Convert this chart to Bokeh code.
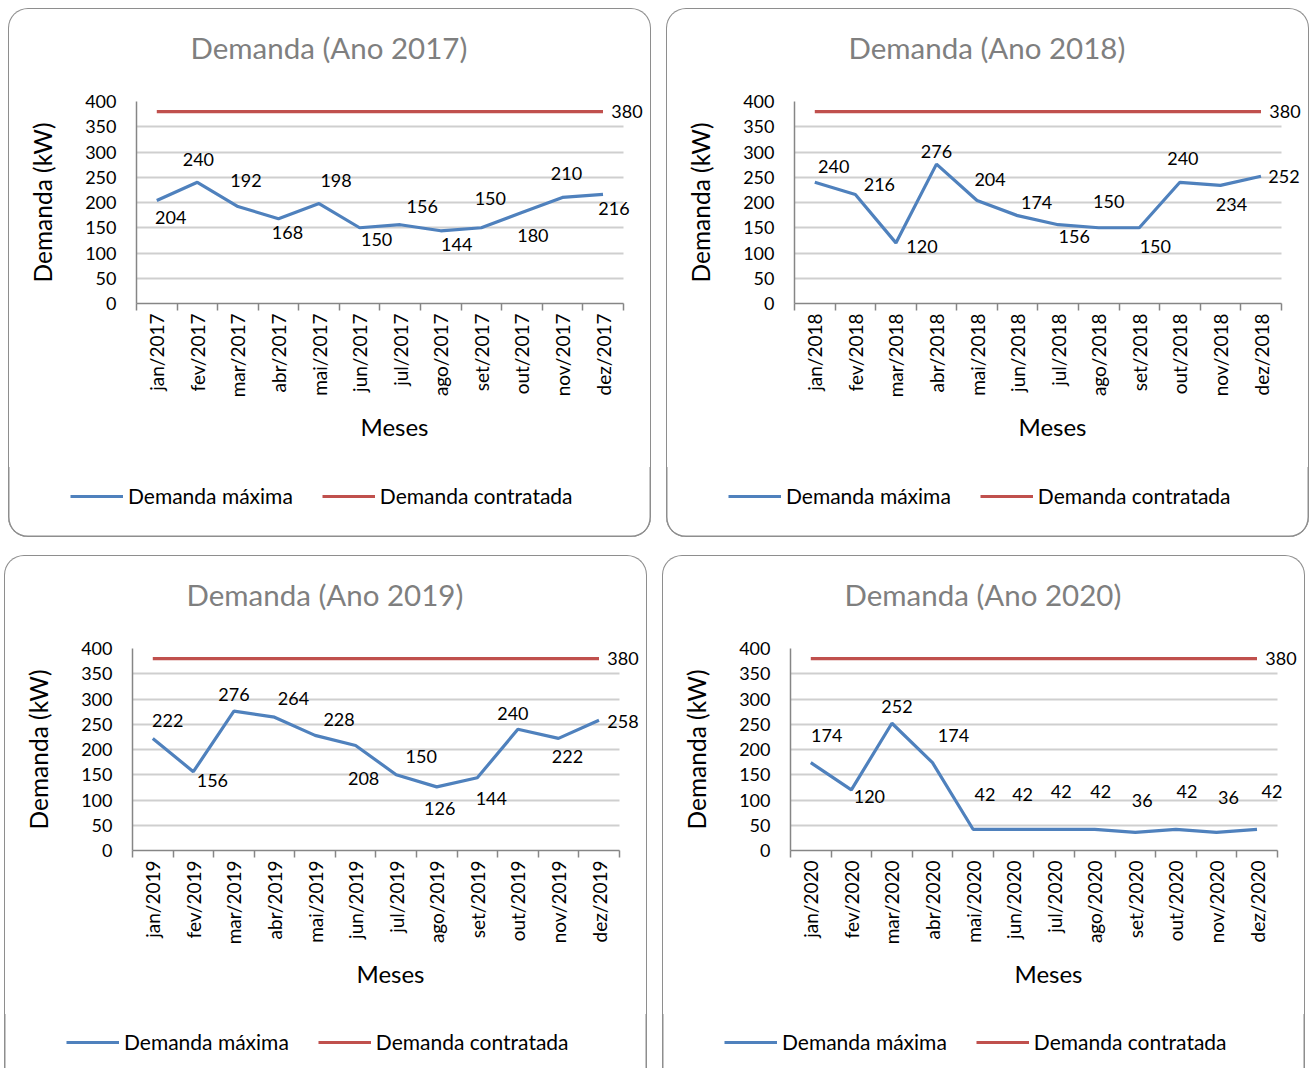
import numpy as np
from bokeh.plotting import figure
from bokeh.models import FixedTicker, Legend, LegendItem, Range1d, Title
from bokeh.layouts import row, column
from bokeh.core.properties import value
from bokeh.embed import file_html
from bokeh.resources import INLINE

# ---------------- data ----------------
months = ["jan", "fev", "mar", "abr", "mai", "jun", "jul", "ago", "set", "out", "nov", "dez"]
years = ["2017", "2018", "2019", "2020"]

demanda_maxima_2017 = [204, 240, 192, 168, 198, 150, 156, 144, 150, 180, 210, 216]
demanda_maxima_2018 = [240, 216, 120, 276, 204, 174, 156, 150, 150, 240, 234, 252]
demanda_maxima_2019 = [222, 156, 276, 264, 228, 208, 150, 126, 144, 240, 222, 258]
demanda_maxima_2020 = [174, 120, 252, 174, 42, 42, 42, 42, 36, 42, 36, 42]
demanda_contratada = 380

y_ticks = [0, 50, 100, 150, 200, 250, 300, 350, 400]

# label placement (screen px offsets from each point), style only
label_dx_2017 = [14, 1, 8, 9, 17, 17, 22, 16, 9, 11, 4, 11]
label_dy_2017 = [17, -23, -26, 14, -23, 12, -18, 14, -29, 23, -24, 14]
label_dx_2018 = [19, 24, 26, 0, 13, 19, 16, 10, 16, 3, 11, 23]
label_dy_2018 = [-16, -10, 4, -13, -21, -13, 12, -26, 19, -24, 19, 0]
label_dx_2019 = [15, 19, 0, 19, 24, 8, 25, 3, 14, -5, 9, 24]
label_dy_2019 = [-18, 9, -17, -19, -16, 33, -18, 22, 21, -16, 18, 1]
label_dx_2020 = [16, 18, 5, 21, 12, 9, 7, 6, 7, 11, 12, 15]
label_dy_2020 = [-27, 7, -17, -27, -35, -35, -38, -38, -32, -38, -35, -38]

FONT = "Lato"
BLUE = "#4F81BD"
RED = "#C0504D"
AXIS = "#868686"
EDGE = "#8e8e8e"
BORDER = "1.5px solid " + EDGE
MAIN_H = 459
FRAME_L = 127


def make_panel(year, vals, dx, dy, legend_h, legend_y, bottom_row):
    n = len(months)
    centers = [i + 0.5 for i in range(n)]
    p = figure(width=643, height=MAIN_H,
               x_range=Range1d(0, 12.72), y_range=Range1d(0, 400),
               output_backend="svg", toolbar_location=None,
               min_border_left=FRAME_L, min_border_right=0,
               min_border_top=92, min_border_bottom=MAIN_H - 294)
    p.outline_line_color = None
    p.border_fill_color = None
    p.background_fill_color = None

    # title (outermost) + blank spacer between title and chart
    p.title.text = f"Demanda (Ano {year})"
    p.title.text_font = FONT
    p.title.text_font_size = "29.5px"
    p.title.text_font_style = "normal"
    p.title.text_color = "#7f7f7f"
    p.title.align = "left"
    p.title.offset = 54
    p.title.standoff = 0
    spacer = Title(text=" ", text_font=FONT, text_font_size="29.5px", standoff=0)
    p.add_layout(spacer, "above")

    # grid
    p.xgrid.grid_line_color = None
    g = p.ygrid[0]
    g.ticker = FixedTicker(ticks=y_ticks)
    if "cross_bounds" in g.properties():
        g.cross_bounds = (0, n)
        g.grid_line_color = "#cfcfcf"
        g.grid_line_width = 2
    else:
        g.visible = False
        p.segment(x0=0, x1=n, y0=y_ticks, y1=y_ticks, line_color="#cfcfcf",
                  line_width=2, level="underlay")

    # x axis
    xa = p.xaxis[0]
    xa.bounds = (0, n)
    xa.ticker = FixedTicker(ticks=centers, minor_ticks=list(range(n + 1)))
    xa.major_label_overrides = {c: f"{m}/{year}" for c, m in zip(centers, months)}
    xa.major_label_orientation = np.pi / 2
    xa.major_tick_out = 0
    xa.major_tick_in = 0
    xa.minor_tick_out = 7
    xa.minor_tick_in = 0
    xa.minor_tick_line_color = AXIS
    xa.minor_tick_line_width = 1.5
    xa.axis_line_color = AXIS
    xa.axis_line_width = 1.5
    xa.major_label_text_font = FONT
    xa.major_label_text_font_size = "19px"
    xa.major_label_text_color = "#000000"
    xa.major_label_standoff = 3
    xa.axis_label = "Meses"
    xa.axis_label_text_font = FONT
    xa.axis_label_text_font_size = "24px"
    xa.axis_label_text_font_style = "normal"
    xa.axis_label_text_color = "#000000"
    xa.axis_label_standoff = 12

    # y axis
    ya = p.yaxis[0]
    ya.ticker = FixedTicker(ticks=y_ticks)
    ya.major_tick_out = 0
    ya.major_tick_in = 0
    ya.minor_tick_out = 0
    ya.minor_tick_in = 0
    ya.axis_line_color = AXIS
    ya.axis_line_width = 1.5
    ya.major_label_text_font = FONT
    ya.major_label_text_font_size = "18px"
    ya.major_label_text_color = "#000000"
    ya.major_label_standoff = 20
    ya.axis_label = "Demanda (kW)"
    ya.axis_label_text_font = FONT
    ya.axis_label_text_font_size = "24.5px"
    ya.axis_label_text_font_style = "normal"
    ya.axis_label_text_color = "#000000"
    ya.axis_label_standoff = 25

    # series
    contr = [demanda_contratada] * n
    p.line(centers, vals, line_color=BLUE, line_width=3.2)
    p.line(centers, contr, line_color=RED, line_width=3.2)

    p.text(x=centers, y=vals, text=[str(v) for v in vals],
           x_offset=dx, y_offset=dy,
           text_align="center", text_baseline="middle",
           text_font=value(FONT), text_font_size="18px", text_color="#000000")
    p.text(x=[centers[-1]], y=[demanda_contratada], text=[str(demanda_contratada)],
           x_offset=24, y_offset=0,
           text_align="center", text_baseline="middle",
           text_font=value(FONT), text_font_size="18px", text_color="#000000")

    # legend strip: same series, kept out of its (tiny) view; only the legend shows
    lg = figure(width=643, height=legend_h, x_range=p.x_range, y_range=Range1d(-2, -1),
                output_backend="svg", toolbar_location=None,
                min_border_left=FRAME_L, min_border_right=0,
                min_border_top=0, min_border_bottom=0,
                x_axis_location=None, y_axis_location=None)
    lg.outline_line_color = None
    lg.border_fill_color = None
    lg.background_fill_color = None
    lg.grid.visible = False
    s_max = lg.line(centers, vals, line_color=BLUE, line_width=3.2)
    s_con = lg.line(centers, contr, line_color=RED, line_width=3.2)
    legend = Legend(items=[LegendItem(label="Demanda máxima", renderers=[s_max]),
                           LegendItem(label="Demanda contratada", renderers=[s_con])],
                    orientation="horizontal", location=(0, legend_y),
                    glyph_width=53, glyph_height=22, label_height=22,
                    label_standoff=5, spacing=29, padding=0, margin=0,
                    border_line_color=None, background_fill_alpha=0,
                    label_text_font=FONT, label_text_font_size="21px",
                    label_text_color="#000000")
    lg.add_layout(legend)
    # shift the strip so the legend starts left of the chart frame, as in the original
    lg.styles = {"transform": "translateX(-65px)"}

    p.styles = {"border-top": BORDER, "border-left": BORDER, "border-right": BORDER,
                "border-radius": "20px 20px 0 0", "box-sizing": "border-box"}
    if bottom_row:
        wrap_style = {"box-shadow": f"inset 1.5px 0 0 {EDGE}, inset -1.5px 0 0 {EDGE}"}
    else:
        wrap_style = {"box-shadow": f"inset 1.5px 0 0 {EDGE}, inset -1.5px 0 0 {EDGE}, "
                                    f"inset 0 -1.5px 0 {EDGE}",
                      "border-radius": "0 0 20px 20px"}
    wrap = column(lg, styles=wrap_style)
    return column(p, wrap, spacing=0)


c1 = make_panel(years[0], demanda_maxima_2017, label_dx_2017, label_dy_2017, 70, 29, False)
c2 = make_panel(years[1], demanda_maxima_2018, label_dx_2018, label_dy_2018, 70, 29, False)
c3 = make_panel(years[2], demanda_maxima_2019, label_dx_2019, label_dy_2019, 54, 14, True)
c4 = make_panel(years[3], demanda_maxima_2020, label_dx_2020, label_dy_2020, 54, 14, True)

top_row = row(c1, c2, spacing=15)
bottom_row = row(c3, c4, spacing=15, margin=(0, 0, 0, -4))
layout = column(top_row, bottom_row, spacing=18, margin=(8, 0, 0, 8))

open("out.html", "w").write(file_html(layout, INLINE))
